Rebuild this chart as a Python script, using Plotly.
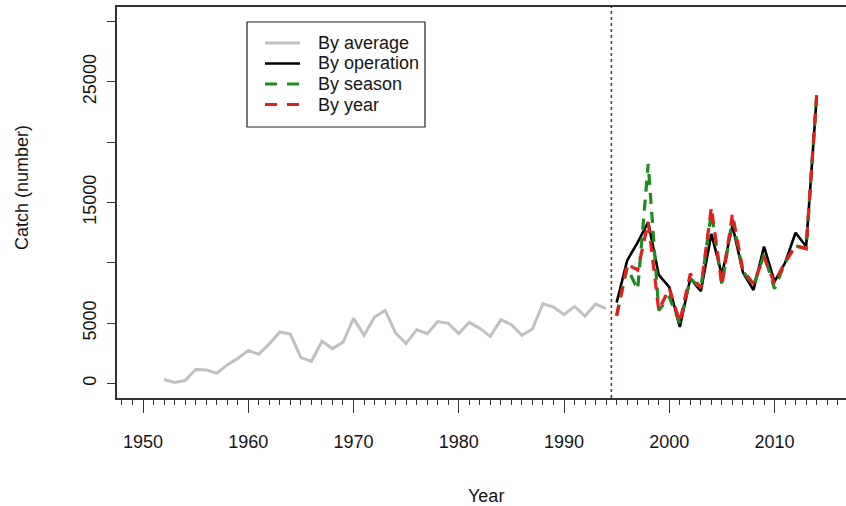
import plotly.graph_objects as go

# ---- data ----
years_avg = list(range(1952, 1995))
catch_avg = [330, 80, 250, 1160, 1130, 850, 1540, 2070, 2750, 2420,
             3280, 4270, 4100, 2150, 1840, 3500, 2890, 3420, 5400, 4000,
             5510, 6060, 4190, 3310, 4460, 4130, 5130, 4990, 4130, 5070,
             4570, 3910, 5290, 4880, 4000, 4520, 6620, 6340, 5710, 6390,
             5590, 6580, 6200]

years_new = list(range(1995, 2015))
catch_operation = [6700, 10200, 11700, 13370, 9000, 7990, 4680, 8700, 7650, 12400,
                   9000, 13100, 9200, 7750, 11350, 8450, 10000, 12500, 11350, 23700]
catch_season = [5650, 9600, 7800, 18200, 6060, 7160, 5000, 8700, 7900, 14200,
                8200, 13600, 9300, 8100, 10700, 7860, 10000, 11400, 11200, 23800]
catch_year = [5600, 9900, 9400, 13370, 6060, 7900, 5100, 9100, 7900, 14600,
              8130, 14050, 9370, 8270, 10500, 8270, 10100, 11400, 11170, 23900]

series_names = ["By average", "By operation", "By season", "By year"]

split_year = 1994.5
y_tickvals = [0, 5000, 10000, 15000, 20000, 25000, 30000]
y_ticktext = ["0", "5000", "", "15000", "", "25000", ""]
x_tickvals = [1950, 1960, 1970, 1980, 1990, 2000, 2010]

FONT = "Liberation Sans, Arial, sans-serif"
AX = "#333333"
TXT = "#151515"
L, R, T, B = 117, 0, 7, 108
PW = 846 - L - R
PH = 506 - T - B

styles = [
    dict(color="#c0c0c0", width=3),
    dict(color="#000000", width=2.6),
    dict(color="#1f8a1f", width=3.2, dash="11px,8px"),
    dict(color="#e0201e", width=3.2, dash="11px,8px"),
]
xs = [years_avg, years_new, years_new, years_new]
ys = [catch_avg, catch_operation, catch_season, catch_year]

fig = go.Figure()
for name, x, y, st in zip(series_names, xs, ys, styles):
    fig.add_trace(go.Scatter(x=x, y=y, mode="lines", name=name, line=st, showlegend=False))

fig.add_shape(type="line", xref="x", yref="paper", x0=split_year, x1=split_year, y0=0, y1=1,
              line=dict(color="#7a1f1f", width=1.5, dash="dot"), layer="below")


def px(xpix):
    return (xpix - L) / PW


def py(ypix):
    return (T + PH - ypix) / PH


# legend box (drawn as in the original figure)
fig.add_shape(type="rect", xref="paper", yref="paper",
              x0=px(247), x1=px(425), y0=py(127), y1=py(22),
              line=dict(color="#222222", width=1.2), fillcolor="white", layer="above")
annotations = []
row_y = [43, 63.5, 84, 104.5]
for name, st, ry in zip(series_names, styles, row_y):
    lst = dict(st)
    if "dash" in lst:
        lst["dash"] = "12px,10px"
    fig.add_shape(type="line", xref="paper", yref="paper",
                  x0=px(265), x1=px(300), y0=py(ry), y1=py(ry), line=lst, layer="above")
    annotations.append(dict(text=name, xref="paper", yref="paper", x=px(316), y=py(ry),
                            xanchor="left", yanchor="middle", showarrow=False,
                            font=dict(size=18, color=TXT)))

annotations += [
    dict(text="Catch (number)", xref="paper", yref="paper",
         x=px(22), y=py(188), textangle=-90,
         showarrow=False, xanchor="center", yanchor="middle", font=dict(size=18, color=TXT)),
    dict(text="Year", xref="paper", yref="paper",
         x=px(486), y=py(496),
         showarrow=False, xanchor="center", yanchor="middle", font=dict(size=18, color=TXT)),
]

fig.update_layout(
    width=846, height=506,
    margin=dict(l=L, r=R, t=T, b=B, autoexpand=False),
    paper_bgcolor="white", plot_bgcolor="white",
    font=dict(family=FONT, size=18, color=TXT),
    showlegend=False,
    xaxis=dict(range=[1947.53, 2016.79], showgrid=False, zeroline=False, automargin=False,
               showline=True, linecolor=AX, linewidth=1.5, mirror=True,
               ticks="outside", tickvals=x_tickvals, ticklen=13, tickwidth=1.3, tickcolor=AX,
               ticklabelstandoff=14,
               minor=dict(dtick=1, tick0=1948, ticks="outside", ticklen=5, tickwidth=1.2, tickcolor=AX)),
    yaxis=dict(range=[-1200, 31200], showgrid=False, zeroline=False, automargin=False,
               showline=True, linecolor=AX, linewidth=1.5,
               ticks="outside", tickvals=y_tickvals, ticktext=y_ticktext,
               ticklen=8, tickwidth=1.3, tickcolor=AX, tickangle=-90,
               ticklabelstandoff=4),
    annotations=annotations,
)

fig.write_html("out.html", config={"displayModeBar": False},
               post_script="document.body.style.margin='0';document.body.style.overflow='hidden';")
